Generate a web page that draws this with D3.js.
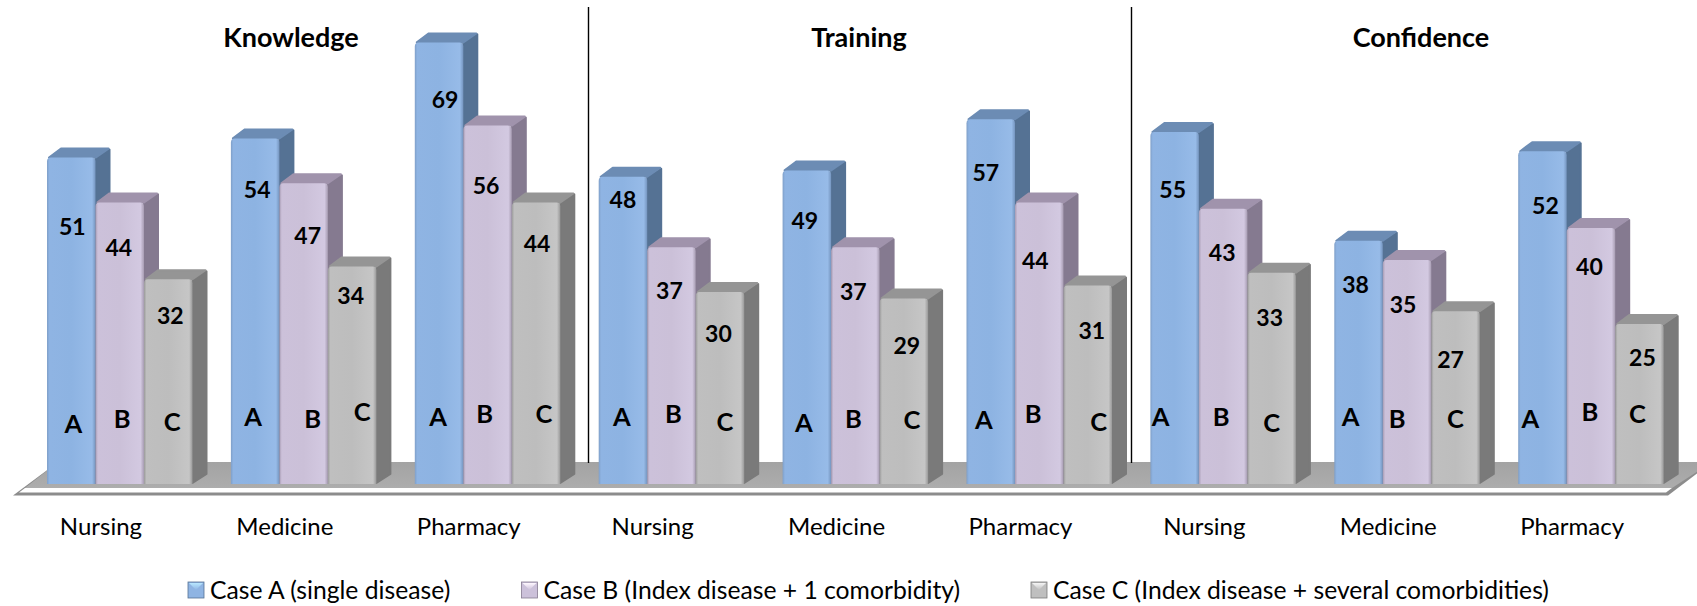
<!DOCTYPE html>
<html>
<head>
<meta charset="utf-8">
<script src="https://cdn.jsdelivr.net/npm/d3@7"></script>
<style>
  html, body { margin: 0; padding: 0; background: #fff; }
  text { font-family: Lato, "Open Sans", sans-serif; fill: #000; }
</style>
</head>
<body>
<div id="vizContainer"></div>
<script>
const sections = ["Knowledge", "Training", "Confidence"];
const categories = ["Nursing", "Medicine", "Pharmacy", "Nursing", "Medicine", "Pharmacy", "Nursing", "Medicine", "Pharmacy"];
const seriesKeys = ["A", "B", "C"];
const seriesNames = ["Case A (single disease)", "Case B (Index disease + 1 comorbidity)", "Case C (Index disease + several comorbidities)"];
const caseA = [51, 54, 69, 48, 49, 57, 55, 38, 52];
const caseB = [44, 47, 56, 37, 37, 44, 43, 35, 40];
const caseC = [32, 34, 44, 30, 29, 31, 33, 27, 25];
const seriesValues = [caseA, caseB, caseC];

// the labels in the original were dragged by hand, so each one gets a nudge
const valueNudgeX = [[1, 2, 6, 0, -2, -5, -2, -3, 3], [-1, 4, -1.5, -2, -2, -4, -1, -4, -1.5], [2, -1.5, 1, -1.5, 3, 4, -2, -5, 3]];
const valueNudgeY = [[69, 51, 57.5, 23, 50, 54, 58, 43.5, 54.6], [45, 53, 60, 44, 45, 58, 44, 45, 39], [37, 29, 41.5, 42, 47, 45, 45, 49, 34]];
const letterNudgeX = [[2, -2, -1, -1, -3, -7, -14, -8, -12], [2.5, 9, -3, 2, -2, -6, -2, -10, -1], [4, 10, 8, 5, 8, 11, 0, 0, -2]];
const letterNudgeY = [[60, 67, 67, 67, 61, 64, 67, 67, 65], [65, 65, 70, 70, 65, 70, 67, 65, 72], [62, 72, 70, 62, 64, 62, 61, 65, 70]];

const width = 1697, height = 606;
const baseY = 484, depthX = 15, depthY = 10;

const front = [["#7f9fc8", "#8fb4e3", "#8db3e2", "#97bbe8", "#7595bf"], ["#a89cb4", "#ccc1da", "#cbc0d8", "#d3c9e1", "#a79cb2"], ["#9a9a9a", "#bfbfbf", "#bdbdbd", "#c6c6c6", "#999999"]];
const topColor = ["#6c8cb4", "#a093ac", "#959595"];
const sideColor = ["#557294", "#857a90", "#7a7a7a"];

const svg = d3.select("#vizContainer").append("svg")
  .attr("width", width).attr("height", height)
  .style("display", "block");

const defs = svg.append("defs");
seriesKeys.forEach((k, s) => {
  const g = defs.append("linearGradient").attr("id", "front" + k);
  [0, 0.05, 0.5, 0.93, 1].forEach((o, i) => {
    g.append("stop").attr("offset", o).attr("stop-color", front[s][i]);
  });
  const m = defs.append("linearGradient").attr("id", "marker" + k)
    .attr("x1", 0).attr("x2", 0).attr("y1", 0).attr("y2", 1);
  m.append("stop").attr("offset", 0).attr("stop-color", d3.color(front[s][1]).brighter(0.7));
  m.append("stop").attr("offset", 1).attr("stop-color", front[s][1]);
});
const floorGrad = defs.append("linearGradient").attr("id", "floorTop")
  .attr("x1", 0).attr("x2", 0).attr("y1", 0).attr("y2", 1);
floorGrad.append("stop").attr("offset", 0).attr("stop-color", "#a3a3a3");
floorGrad.append("stop").attr("offset", 1).attr("stop-color", "#adadad");

const x0 = d3.scaleBand().domain(d3.range(categories.length)).range([47, 47 + 183.9 * categories.length]);
const x1 = d3.scaleBand().domain(seriesKeys).range([0, 145.5]);
const y = d3.scaleLinear().domain([0, 70]).range([baseY, baseY - 70 * 6.4]);

// floor
svg.append("polygon").attr("points", "13,495.5 58,462 1712,462 1668,495.5").attr("fill", "#8c8c8c");
svg.append("polygon").attr("points", "19,492.5 25,488 1672,488 1666,492.5").attr("fill", "#fff");
svg.append("polygon").attr("points", "25,488 58,462 1712,462 1672,488").attr("fill", "url(#floorTop)");

// section dividers
[588.5, 1131.5].forEach(v => {
  svg.append("line").attr("x1", v).attr("x2", v).attr("y1", 7).attr("y2", 463)
    .attr("stroke", "#000").attr("stroke-width", 1.4);
});

// bars
const rows = [];
categories.forEach((c, g) => seriesKeys.forEach((k, s) => {
  rows.push({ g, s, k, value: seriesValues[s][g] });
}));

const bars = svg.selectAll(".bar").data(rows).enter().append("g")
  .attr("class", "bar")
  .attr("transform", d => `translate(${x0(d.g) + x1(d.k)},0)`);

bars.append("path").attr("fill", d => sideColor[d.s])
  .attr("stroke", d => sideColor[d.s]).attr("stroke-width", 2).attr("stroke-linejoin", "round")
  .attr("d", d => {
    const w = x1.bandwidth(), t = y(d.value);
    return `M${w},${t + 1}L${w + depthX - 1},${t - depthY + 2}L${w + depthX - 1},${baseY - depthY}L${w},${baseY - 1}Z`;
  });
bars.append("path").attr("fill", d => topColor[d.s])
  .attr("stroke", d => topColor[d.s]).attr("stroke-width", 2).attr("stroke-linejoin", "round")
  .attr("d", d => {
    const w = x1.bandwidth(), t = y(d.value);
    return `M2,${t}L${depthX - 1},${t - depthY + 1}L${w + depthX - 2},${t - depthY + 1}L${w},${t}Z`;
  });
bars.append("path").attr("fill", d => `url(#front${d.k})`)
  .attr("d", d => {
    const w = x1.bandwidth(), t = y(d.value);
    return `M0,${baseY}L0,${t + 4}Q0,${t} 4,${t}L${w - 4},${t}Q${w},${t} ${w},${t + 4}L${w},${baseY}Z`;
  });

// data labels
svg.selectAll(".value").data(rows).enter().append("text")
  .attr("class", "value")
  .attr("x", d => x0(d.g) + x1(d.k) + x1.bandwidth() / 2 + valueNudgeX[d.s][d.g])
  .attr("y", d => y(d.value) + valueNudgeY[d.s][d.g])
  .attr("dy", "0.36em")
  .attr("text-anchor", "middle")
  .style("font-size", "23px").style("font-weight", 700)
  .text(d => d.value);

svg.selectAll(".letter").data(rows).enter().append("text")
  .attr("class", "letter")
  .attr("x", d => x0(d.g) + x1(d.k) + x1.bandwidth() / 2 + letterNudgeX[d.s][d.g])
  .attr("y", d => baseY - letterNudgeY[d.s][d.g])
  .attr("dy", "0.36em")
  .attr("text-anchor", "middle")
  .style("font-size", "25.5px").style("font-weight", 700)
  .text(d => d.k);

// category axis
const axis = d3.axisBottom(x0).tickSize(0).tickFormat(i => categories[i]);
const axisG = svg.append("g").attr("transform", "translate(-38,518)").call(axis);
axisG.select(".domain").remove();
axisG.selectAll("text").style("font-size", "24px").style("font-family", "Lato").attr("fill", "#000").attr("dy", "0.71em").attr("y", 0);

// section titles
const titleX = [291, 859, 1421];
svg.selectAll(".title").data(sections).enter().append("text")
  .attr("class", "title")
  .attr("x", (d, i) => titleX[i]).attr("y", 37).attr("dy", "0.36em")
  .attr("text-anchor", "middle")
  .style("font-size", "27px").style("font-weight", 700)
  .text(d => d);

// legend
const legendX = [188, 521.5, 1031];
const legend = svg.selectAll(".legend").data(seriesNames).enter().append("g")
  .attr("class", "legend")
  .attr("transform", (d, i) => `translate(${legendX[i]},582)`);
legend.append("rect").attr("width", 16).attr("height", 16)
  .attr("fill", (d, i) => front[i][1]).attr("stroke", (d, i) => sideColor[i]).attr("stroke-width", 0.8);
legend.append("polygon").attr("points", "1,1 15,1 8,8")
  .attr("fill", (d, i) => `url(#marker${seriesKeys[i]})`);
legend.append("text").attr("x", 22).attr("y", 8).attr("dy", "0.36em")
  .style("font-size", "24.7px")
  .text(d => d);
</script>
</body>
</html>
